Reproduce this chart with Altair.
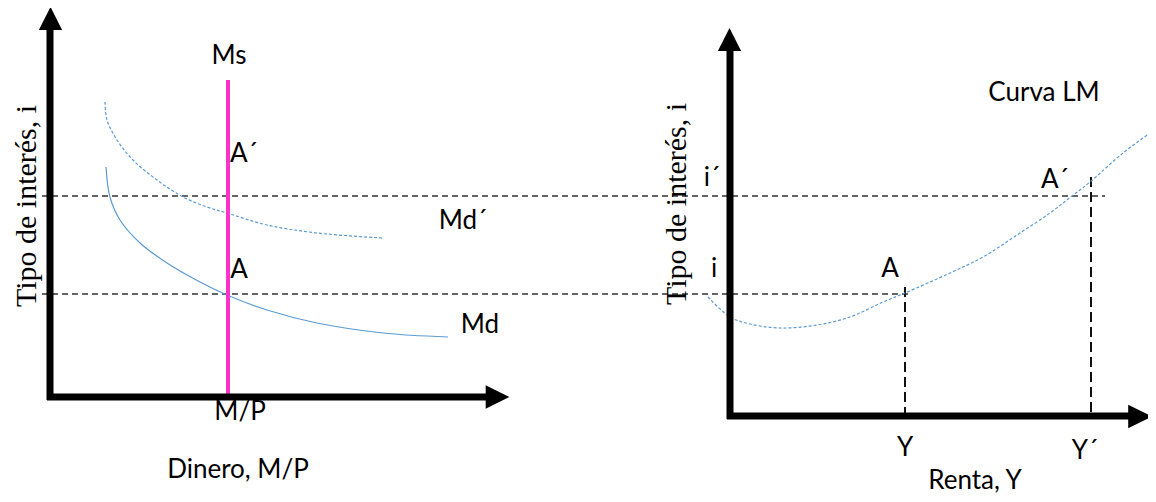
import altair as alt
import pandas as pd

# ---- values (diagram units = picture coordinates) ----
# Money demand Md (solid) and shifted demand Md´ (dashed), left panel
md_x = [106, 110, 120, 140, 167, 200, 227, 267, 317, 383, 448]
md_y = [167, 197, 220, 243, 263, 282, 295, 310, 323, 333, 337]
mdp_x = [105, 107, 117, 133, 157, 183, 207, 227, 267, 317, 382]
mdp_y = [102, 120, 140, 160, 180, 197, 207, 213, 225, 233, 238]
# LM curve (dashed), right panel
lm_x = [708, 730, 750, 780, 817, 850, 883, 905, 950, 983, 1017, 1050, 1072, 1090, 1123, 1157]
lm_y = [297, 317, 324, 328, 325, 317, 302, 293, 273, 257, 235, 213, 196, 182, 153, 128]

# money supply Ms
ms_x = [228]
ms_y = [80, 397]

# interest levels i and i´ (horizontal guides) and income levels Y, Y´ (vertical guides)
h_guides = {"y": [196, 294], "x": [42, 42], "x2": [1105, 912]}
v_guides = {"x": [905, 1091], "y": [287, 177], "y2": [414, 412]}

# axes of both panels
axis_lines = {
    "x": [50, 47, 730, 727],
    "x2": [50, 490, 730, 1130],
    "y": [400, 397, 419, 416],
    "y2": [28, 397, 48, 416],
}
arrow_x = [50.5, 497.5, 729.5, 1140]
arrow_y = [18.5, 397, 39.5, 416.5]
arrow_dir = ["up", "right", "up", "right"]

labels = ["Ms", "A´", "A", "Md´", "Md", "M/P", "Dinero, M/P",
          "Curva LM", "i´", "i", "A", "A´", "Y", "Y´", "Renta, Y"]
label_x = [229, 244, 239, 463, 480, 240, 238, 1044, 712, 714, 890, 1055, 905, 1085, 975]
label_y = [56, 154, 270, 221, 325, 412, 470, 93, 178, 269, 269, 180, 448, 451, 481]

titles = ["Tipo de interés, i", "Tipo de interés, i"]
title_x = [27, 677]
title_y = [206, 204]

# ---- chart ----
W, H = 1140, 486
xs = alt.Scale(domain=[8, 8 + W], nice=False, zero=False)
ys = alt.Scale(domain=[8 + H, 8], nice=False, zero=False)

BLUE = "#5B9BD5"
DASH = "#333333"

def X(f="x"):
    return alt.X(f"{f}:Q", scale=xs, axis=None)

def Y(f="y"):
    return alt.Y(f"{f}:Q", scale=ys, axis=None)

md = alt.Chart(pd.DataFrame({"x": md_x, "y": md_y, "o": range(len(md_x))})).mark_line(
    color=BLUE, strokeWidth=1.2, interpolate="catmull-rom"
).encode(x=X(), y=Y(), order="o:Q")

mdp = alt.Chart(pd.DataFrame({"x": mdp_x, "y": mdp_y, "o": range(len(mdp_x))})).mark_line(
    color=BLUE, strokeWidth=1.2, strokeDash=[3, 2], interpolate="catmull-rom"
).encode(x=X(), y=Y(), order="o:Q")

lm = alt.Chart(pd.DataFrame({"x": lm_x, "y": lm_y, "o": range(len(lm_x))})).mark_line(
    color=BLUE, strokeWidth=1.2, strokeDash=[3, 2], interpolate="catmull-rom"
).encode(x=X(), y=Y(), order="o:Q")

hg = alt.Chart(pd.DataFrame(h_guides)).mark_rule(
    color=DASH, strokeWidth=1.5, strokeDash=[6, 4]
).encode(x=X(), x2="x2:Q", y=Y())

vg = alt.Chart(pd.DataFrame(v_guides)).mark_rule(
    color="#111111", strokeWidth=2, strokeDash=[10, 5]
).encode(x=X(), y=Y(), y2="y2:Q")

ms = alt.Chart(pd.DataFrame({"x": ms_x, "y": [ms_y[0]], "y2": [ms_y[1]]})).mark_rule(
    color="#FF33CC", strokeWidth=4
).encode(x=X(), y=Y(), y2="y2:Q")

axes = alt.Chart(pd.DataFrame(axis_lines)).mark_rule(
    color="black", strokeWidth=7
).encode(x=X(), x2="x2:Q", y=Y(), y2="y2:Q")

arr_df = pd.DataFrame({"x": arrow_x, "y": arrow_y, "d": arrow_dir})
up = alt.Chart(arr_df[arr_df.d == "up"]).mark_point(
    shape="M0,-1L1,1L-1,1Z", filled=True, color="black", opacity=1, size=540, strokeWidth=0
).encode(x=X(), y=Y())
right = alt.Chart(arr_df[arr_df.d == "right"]).mark_point(
    shape="M1,0L-1,-1L-1,1Z", filled=True, color="black", opacity=1, size=560, strokeWidth=0
).encode(x=X(), y=Y())

txt = alt.Chart(pd.DataFrame({"x": label_x, "y": label_y, "t": labels})).mark_text(
    font="Lato", fontSize=26, color="black", align="center", baseline="middle"
).encode(x=X(), y=Y(), text="t:N")

ttl = alt.Chart(pd.DataFrame({"x": title_x, "y": title_y, "t": titles})).mark_text(
    font="Liberation Serif", fontSize=30, color="black", align="center", baseline="middle", angle=270
).encode(x=X(), y=Y(), text="t:N")

chart = alt.layer(
    hg, vg, md, mdp, lm, ms, axes, up, right, txt, ttl
).properties(
    width=W, height=H, padding=0,
    autosize=alt.AutoSizeParams(type="none"),
    background="white",
).configure_view(stroke=None)

chart.save("out.html", embed_options={"renderer": "svg", "actions": False})
